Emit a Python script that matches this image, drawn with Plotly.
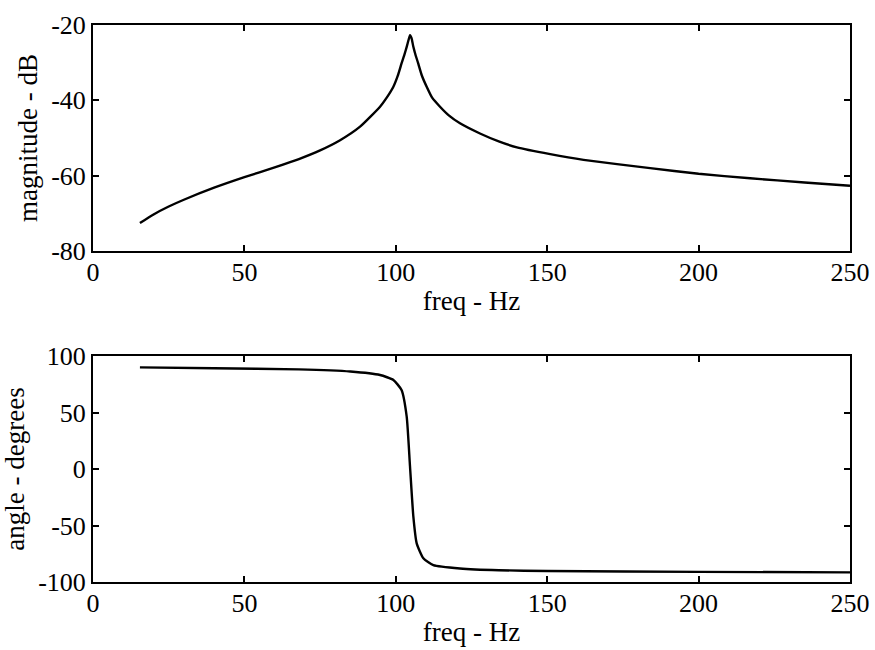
import plotly.graph_objects as go
from plotly.subplots import make_subplots

# Magnitude response
mag_freq = [15.5, 20, 25, 30, 40, 50, 60, 68, 75, 81.6, 88.2, 94.8, 97.0, 99.2, 100.6, 101.9,
            102.8, 103.6, 104.2, 104.7, 105.2, 105.8, 106.5, 107.4, 108.6, 110.2, 112.0, 114.6,
            117.5, 121.2, 127.8, 134, 140, 151, 162, 184, 200, 217, 235, 250]
mag_db = [-72.6, -70.3, -68.2, -66.4, -63.2, -60.4, -57.8, -55.6, -53.3, -50.6, -47.0, -41.7,
          -39.3, -36.4, -33.6, -30.2, -28.0, -25.8, -24.0, -22.7, -23.5, -25.8, -27.9, -30.2,
          -33.4, -36.4, -39.3, -41.7, -44.0, -46.1, -48.8, -50.9, -52.5, -54.3, -55.8, -58.0,
          -59.5, -60.7, -61.8, -62.7]

# Phase response
ph_freq = [15.5, 40, 68, 85, 94.8, 99.2, 101.9, 103.6, 104.7, 105.8, 106.9, 109.1, 112.4,
           121.2, 134, 150, 200, 250]
ph_deg = [90, 89.2, 88.2, 86.3, 83.2, 78.8, 69.9, 46.3, 2.0, -42.2, -65.8, -79.0, -85.0,
          -88.0, -89.6, -90.3, -91.0, -91.5]

x_ticks = [0, 50, 100, 150, 200, 250]
x_labels = ["0", "50", "100", "150", "200", "250"]
mag_ticks = [-80, -60, -40, -20]
mag_labels = ["-80", "-60", "-40", "-20"]
ph_ticks = [-100, -50, 0, 50, 100]
ph_labels = ["-100", "-50", "0", "50", "100"]

FONT = "Liberation Serif, Times New Roman, serif"

fig = make_subplots(rows=2, cols=1, vertical_spacing=0.1886)
fig.add_trace(go.Scatter(x=mag_freq, y=mag_db, mode="lines",
                         line=dict(color="black", width=2.4, shape="spline", smoothing=0.5)),
              row=1, col=1)
fig.add_trace(go.Scatter(x=ph_freq, y=ph_deg, mode="lines",
                         line=dict(color="black", width=2.4, shape="spline", smoothing=0.5)),
              row=2, col=1)

axis_common = dict(showline=True, linecolor="black", linewidth=2, mirror="ticks",
                   ticks="inside", ticklen=6, tickwidth=2, tickcolor="black",
                   showgrid=False, zeroline=False, automargin=False,
                   tickfont=dict(family=FONT, size=26, color="black"))
title_font = dict(family=FONT, size=27, color="black")

fig.update_xaxes(range=[0, 250], tickvals=x_ticks, ticktext=x_labels, ticklabelstandoff=-3,
                 title=dict(text="freq - Hz", font=title_font, standoff=5), **axis_common)
fig.update_yaxes(range=[-80, -20], tickvals=mag_ticks, ticktext=mag_labels,
                 title=dict(text="magnitude - dB", font=title_font, standoff=6),
                 row=1, col=1, **axis_common)
fig.update_yaxes(range=[-100, 100], tickvals=ph_ticks, ticktext=ph_labels,
                 title=dict(text="angle - degrees", font=title_font, standoff=6),
                 row=2, col=1, **axis_common)

fig.update_layout(
    width=875, height=650,
    margin=dict(l=93, r=25, t=25, b=68),
    paper_bgcolor="white", plot_bgcolor="white",
    showlegend=False,
    yaxis=dict(domain=[0.5943, 1.0]),
    yaxis2=dict(domain=[0.0, 0.4057]),
)

fig.write_html("out.html")
